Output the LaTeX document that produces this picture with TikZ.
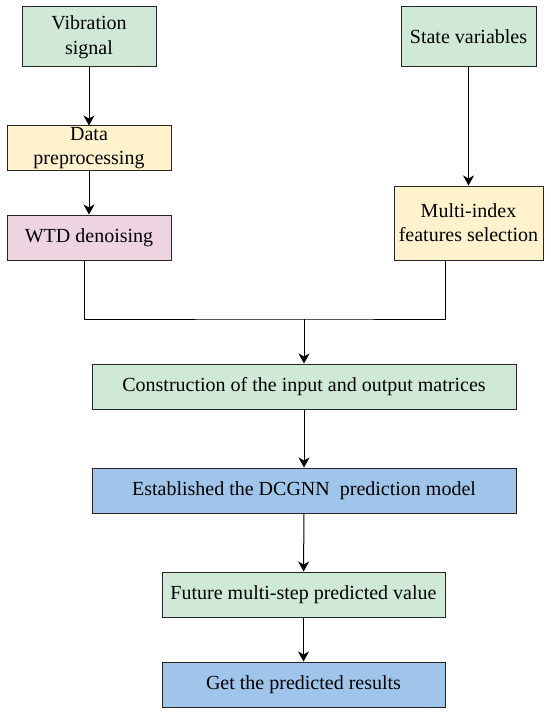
\documentclass[tikz,border=0pt]{standalone}
\usepackage{fontspec}
\setmainfont{Liberation Serif}
\usetikzlibrary{arrows.meta}
\definecolor{boxgreen}{HTML}{D0E9D6}
\definecolor{boxyellow}{HTML}{FFF2CD}
\definecolor{boxpink}{HTML}{EED3E1}
\definecolor{boxblue}{HTML}{9FC5EA}
\begin{document}
\begin{tikzpicture}[x=1pt,y=-1pt,
    box/.style={draw=black!85,line width=1pt,align=center,inner sep=0pt,
      font=\fontsize{20}{24}\selectfont},
    flow/.style={line width=1pt,-{Stealth[length=10pt,width=11pt,inset=3pt]}}]
    \useasboundingbox (0,0) rectangle (550,714);
    % inputs
    \node[box,fill=boxgreen,minimum width=134pt,minimum height=60pt] (vib) at (89,37) {Vibration\\[1pt]signal};
    \node[box,fill=boxgreen,minimum width=135pt,minimum height=60pt] (state) at (468.5,37) {State variables};
    \node[box,fill=boxyellow,minimum width=164pt,minimum height=45pt] (prep) at (89,148.5) {Data\\preprocessing};
    \node[box,fill=boxpink,minimum width=164pt,minimum height=45pt] (wtd) at (89,237.5) {WTD denoising};
    \node[box,fill=boxyellow,minimum width=149pt,minimum height=74pt] (multi) at (468.5,223) {Multi-index\\features selection};
    % main chain
    \node[box,fill=boxgreen,minimum width=424pt,minimum height=45pt] (cons) at (304,386.5) {Construction of the input and output matrices};
    \node[box,fill=boxblue,minimum width=424pt,minimum height=45pt] (dcg) at (304,490.5) {Established the DCGNN\ \ prediction model};
    \node[box,fill=boxgreen,minimum width=283pt,minimum height=45pt] (fut) at (303.5,594.5) {Future multi-step predicted value};
    \node[box,fill=boxblue,minimum width=283pt,minimum height=45pt] (res) at (303.5,684.5) {Get the predicted results};
    \coordinate (join) at (304,319);
    \draw[flow] (vib) -- (prep);
    \draw[flow] (prep) -- (wtd);
    \draw[flow] (state) -- (multi);
    \draw[line width=1pt] ([xshift=-5pt]wtd.south) |- (join) -| ([xshift=-23.5pt]multi.south);
    \draw[flow] (join) -- (cons);
    \draw[flow] (cons) -- (dcg);
    \draw[flow] (dcg) -- (fut);
    \draw[flow] (fut) -- (res);
\end{tikzpicture}
\end{document}
